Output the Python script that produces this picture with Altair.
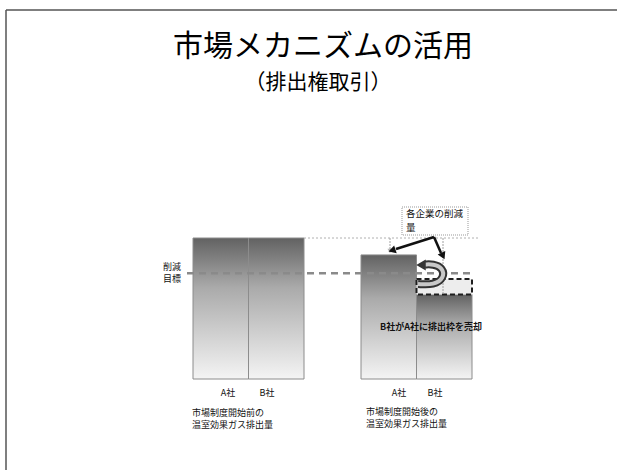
import altair as alt
import pandas as pd

# ---- data ----
companies = ["A社", "B社"]
before_emissions = [100, 100]       # before the market system (relative units)
after_emissions = [88, 60]          # after the market system
sold_allowance_top = 71             # top of B's sold (dashed) allowance block
reduction_target = 75               # 削減目標 level

title_text = "市場メカニズムの活用"
subtitle_text = "（排出権取引）"
caption_before = ["市場制度開始前の", "温室効果ガス排出量"]
caption_after = ["市場制度開始後の", "温室効果ガス排出量"]
callout_lines = ["各企業の削減", "量"]
target_lines = ["削減", "目標"]
trade_text = "B社がA社に排出枠を売却"

# ---- layout ----
W, H = 617, 470
BASE_PX = 379
PX_PER_UNIT = 1.41
FONT = "Noto Sans CJK JP"


def u(py):
    return (BASE_PX - py) / PX_PER_UNIT


xs = alt.Scale(domain=[0, W], nice=False, zero=False)
ys = alt.Scale(domain=[-(H - BASE_PX) / PX_PER_UNIT, BASE_PX / PX_PER_UNIT], nice=False, zero=False)

panel_left = {"before": 193, "after": 361}
bar_w = 55.5

rows = []
for i, c in enumerate(companies):
    rows.append({"panel": "before", "company": c,
                 "x0": panel_left["before"] + i * bar_w, "x1": panel_left["before"] + (i + 1) * bar_w,
                 "y0": 0, "y1": before_emissions[i]})
    rows.append({"panel": "after", "company": c,
                 "x0": panel_left["after"] + i * bar_w, "x1": panel_left["after"] + (i + 1) * bar_w,
                 "y0": 0, "y1": after_emissions[i]})
bars_df = pd.DataFrame(rows)

grad = {"gradient": "linear", "x1": 0, "x2": 0, "y1": 0, "y2": 1,
        "stops": [{"offset": 0, "color": "#626262"},
                  {"offset": 0.35, "color": "#aaaaaa"},
                  {"offset": 1, "color": "#f4f4f4"}]}

X = lambda f: alt.X(f, type="quantitative", scale=xs, axis=None)
Y = lambda f: alt.Y(f, type="quantitative", scale=ys, axis=None)

bars = alt.Chart(bars_df).mark_rect(fill=grad, stroke="#8c8c8c", strokeWidth=1).encode(
    x=X("x0"), x2="x1", y=Y("y0"), y2="y1")

sold_df = pd.DataFrame({"x0": [panel_left["after"] + bar_w], "x1": [panel_left["after"] + 2 * bar_w],
                        "y0": [after_emissions[1]], "y1": [sold_allowance_top]})
sold = alt.Chart(sold_df).mark_rect(fill="#ededed", stroke="#1e1e1e", strokeDash=[5, 3], strokeWidth=2).encode(
    x=X("x0"), x2="x1", y=Y("y0"), y2="y1")

target_df = pd.DataFrame({"x0": [187], "x1": [474], "y": [reduction_target]})
target = alt.Chart(target_df).mark_rule(color="#8a8a8a", strokeDash=[7, 5], strokeWidth=2.5).encode(
    x=X("x0"), x2="x1", y=Y("y"))

top_df = pd.DataFrame({"x0": [panel_left["before"] + 2 * bar_w], "x1": [478], "y": [before_emissions[0]]})
topline = alt.Chart(top_df).mark_rule(color="#b0b0b0", strokeDash=[2, 2], strokeWidth=1).encode(
    x=X("x0"), x2="x1", y=Y("y"))

vert_df = pd.DataFrame({"x": [390, 443], "y0": [before_emissions[0], before_emissions[0]],
                        "y1": [u(250), after_emissions[1]]})
verts = alt.Chart(vert_df).mark_rule(color="#a0a0a0", strokeDash=[2, 1], strokeWidth=1).encode(
    x=X("x"), y=Y("y0"), y2="y1")
vhead = alt.Chart(pd.DataFrame({"x": [390], "y": [u(251)]})).mark_point(
    shape="triangle-down", filled=True, color="#999", size=25).encode(x=X("x"), y=Y("y"))

arrow_df = pd.DataFrame({
    "id": [1, 1, 2, 2], "ord": [0, 1, 0, 1],
    "x": [434, 396, 434, 441], "y": [u(237), u(249), u(237), u(253)]})
arrows = alt.Chart(arrow_df).mark_line(color="#111", strokeWidth=2.5).encode(
    x=X("x"), y=Y("y"), detail="id:N", order="ord:Q")
head_df = pd.DataFrame({"x": [392, 443], "y": [u(250.5), u(256)], "ang": [252, 155]})
heads = alt.Chart(head_df).mark_point(shape="triangle-up", filled=True, color="#111", size=70, opacity=1).encode(
    x=X("x"), y=Y("y"), angle=alt.Angle("ang:Q", scale=None))

u_df = pd.DataFrame({"ord": [0, 1, 2, 3, 4, 5],
                     "x": [418, 434, 444, 443, 433, 425],
                     "y": [u(284), u(285), u(278), u(268), u(264), u(264.5)]})
u_outer = alt.Chart(u_df).mark_line(color="#333", strokeWidth=8, interpolate="basis").encode(
    x=X("x"), y=Y("y"), order="ord:Q")
u_inner = alt.Chart(u_df).mark_line(color="#c8c8c8", strokeWidth=4, interpolate="basis").encode(
    x=X("x"), y=Y("y"), order="ord:Q")
u_head = alt.Chart(pd.DataFrame({"x": [421], "y": [u(265)]})).mark_point(
    shape="triangle-left", filled=True, color="#333", size=120, opacity=1).encode(x=X("x"), y=Y("y"))

callout_df = pd.DataFrame({"x0": [402], "x1": [468], "y0": [u(207)], "y1": [u(235)]})
callout = alt.Chart(callout_df).mark_rect(fill="white", stroke="#999", strokeDash=[1, 1], strokeWidth=1).encode(
    x=X("x0"), x2="x1", y=Y("y0"), y2="y1")

dummy = pd.DataFrame({"a": [0]})


def txt(t, x, y, size, align="left", weight="normal", color="#111"):
    return alt.Chart(dummy).mark_text(text=t, font=FONT, fontSize=size, align=align,
                                      baseline="middle", fontWeight=weight, color=color).encode(
        x=alt.value(x), y=alt.value(y))


texts = [
    txt(title_text, 323, 47, 30, "center", color="#000"),
    txt(subtitle_text, 318, 83, 21, "center", color="#000"),
    txt(target_lines[0], 163, 267, 9),
    txt(target_lines[1], 163, 279, 9),
    txt(companies[0], 228, 393, 9, "center"),
    txt(companies[1], 267, 393, 9, "center"),
    txt(companies[0], 399, 393, 9, "center"),
    txt(companies[1], 435, 393, 9, "center"),
    txt(caption_before[0], 192, 413, 9),
    txt(caption_before[1], 192, 425, 9),
    txt(caption_after[0], 366, 412, 9),
    txt(caption_after[1], 366, 424, 9),
    txt(callout_lines[0], 406, 214, 9.5),
    txt(callout_lines[1], 406, 228, 9.5),
    txt(trade_text, 431, 327, 9, "center", weight="bold"),
]

border_top = alt.Chart(dummy).mark_rule(color="#555", strokeWidth=1.5).encode(
    x=alt.value(6), x2=alt.value(617), y=alt.value(10))
border_left = alt.Chart(dummy).mark_rule(color="#555", strokeWidth=1.5).encode(
    x=alt.value(6), y=alt.value(10), y2=alt.value(470))

chart = alt.layer(
    border_top, border_left,
    bars, sold, target, topline, verts, vhead,
    callout, arrows, heads, u_outer, u_inner, u_head,
    *texts
).properties(width=W, height=H, padding=0, autosize=alt.AutoSizeParams(type="none"),
             background="white").configure_view(stroke=None)

chart.save("out.html", embed_options={"renderer": "svg", "actions": False})
